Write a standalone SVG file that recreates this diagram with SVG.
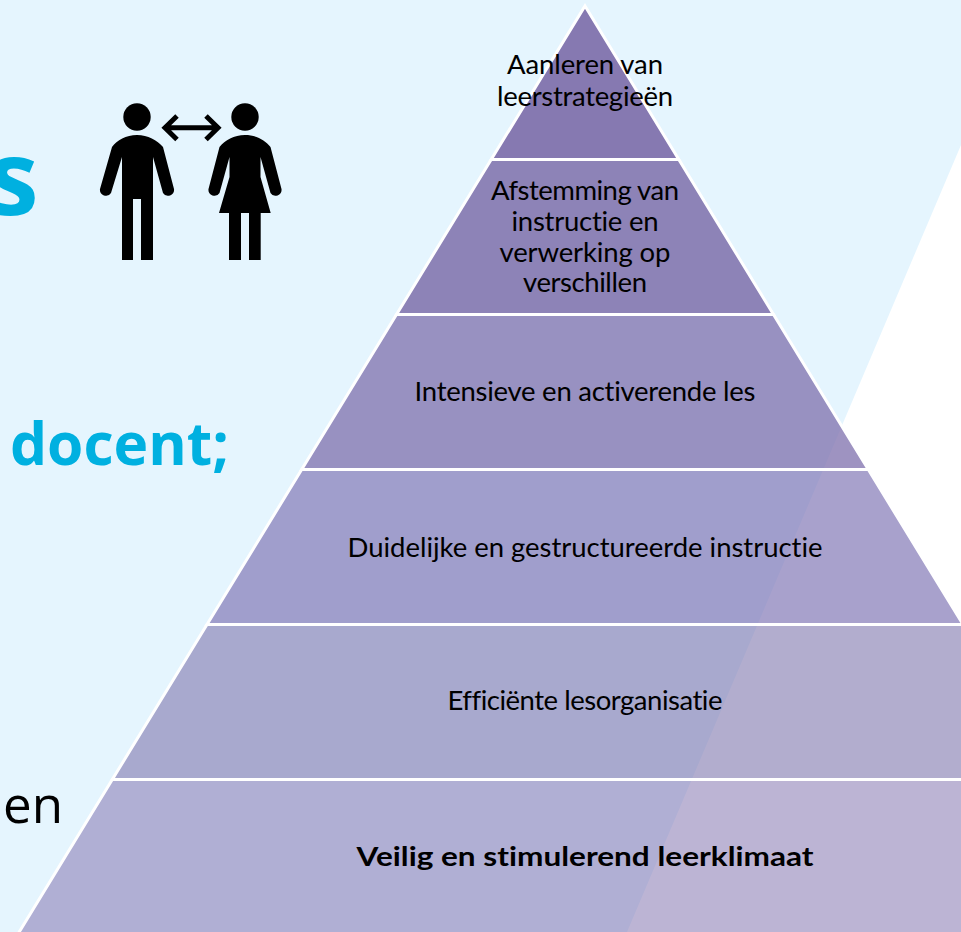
<svg xmlns="http://www.w3.org/2000/svg" width="961" height="932" viewBox="0 0 961 932">
<style>
.b{stroke:#fff;stroke-width:3}
.t{font-family:"Lato","Liberation Sans",sans-serif;font-size:27.500px;fill:#000;text-anchor:middle;font-variant-ligatures:none}
.h{font-family:"Open Sans","Liberation Sans",sans-serif;font-weight:700;fill:#00b0e0}
.p{fill:#000}
</style>
<rect width="961" height="932" fill="#fff"/>
<polygon points="0,0 961,0 961,145 627,932 0,932" fill="#e5f5fe"/>
<text class="h" x="-13" y="215" font-size="104">s</text>
<text class="h" x="10" y="465" font-size="59" textLength="219" lengthAdjust="spacingAndGlyphs">docent;</text>
<text x="3" y="823" font-family="'Open Sans','Liberation Sans',sans-serif" font-size="52" fill="#000" textLength="60" lengthAdjust="spacingAndGlyphs">en</text>
<g id="man"><circle class="p" cx="137" cy="117" r="13.7"/><path class="p" d="M137 135C148 135 157 140 163 147L174 189A6 6 0 0 1 163 193L153 157V260H141V199H133V260H122V157L111 193A6 6 0 0 1 100 189L112 147C117 140 126 135 137 135Z"/></g>
<g id="woman"><circle class="p" cx="245" cy="117" r="13.7"/><path class="p" d="M245 135C256 135 265 140 270.500 147L281.500 189A6 6 0 0 1 270.500 193L260.500 157V177L270.700 213H260.700V260H249V213H241V260H229V213H219L229.500 177V157L219.500 193A6 6 0 0 1 208.500 189L219.500 147C225 140 234 135 245 135Z"/></g>
<g id="connectors"><path d="M167 127.700H216M177 116L165 127.700L177 139.500M206 116L218 127.700L206 139.500" fill="none" stroke="#000" stroke-width="5"/></g>
<g id="band1"><polygon class="b" style="fill:#7e6eaa;fill-opacity:.92" points="585,6 678.800,159.500 491.200,159.500"/></g>
<g id="band2"><polygon class="b" style="fill:#7e6eaa;fill-opacity:.85" points="491.200,159.500 678.800,159.500 773.500,314.500 396.500,314.500"/></g>
<g id="band3"><polygon class="b" style="fill:#7e6fac;fill-opacity:.75" points="396.500,314.500 773.500,314.500 868.300,469.500 301.700,469.500"/></g>
<g id="band4"><polygon class="b" style="fill:#7d73b3;fill-opacity:.67" points="301.700,469.500 868.300,469.500 963,624.500 207,624.500"/></g>
<g id="band5"><polygon class="b" style="fill:#7f76ae;fill-opacity:.6" points="207,624.500 963,624.500 1057.700,779.500 112.300,779.500"/></g>
<g id="band6"><polygon class="b" style="fill:#7e70ad;fill-opacity:.52" points="112.300,779.500 1057.700,779.500 1155.700,940 14.300,940"/></g>
<g id="labels">
<text class="t" x="585" y="74" textLength="156">Aanleren van</text>
<text class="t" x="585" y="106" textLength="176">leerstrategieën</text>
<text class="t" x="585" y="200" textLength="188">Afstemming van</text>
<text class="t" x="585" y="231" textLength="147">instructie en</text>
<text class="t" x="585" y="262" textLength="171">verwerking op</text>
<text class="t" x="585" y="292" textLength="124">verschillen</text>
<text class="t" x="585" y="401" textLength="341">Intensieve en activerende les</text>
<text class="t" x="585" y="557" textLength="475">Duidelijke en gestructureerde instructie</text>
<text class="t" x="585" y="710" textLength="275">Efficiënte lesorganisatie</text>
<text class="t" x="585" y="866" font-weight="700" textLength="457" lengthAdjust="spacingAndGlyphs">Veilig en stimulerend leerklimaat</text>
</g>
</svg>
